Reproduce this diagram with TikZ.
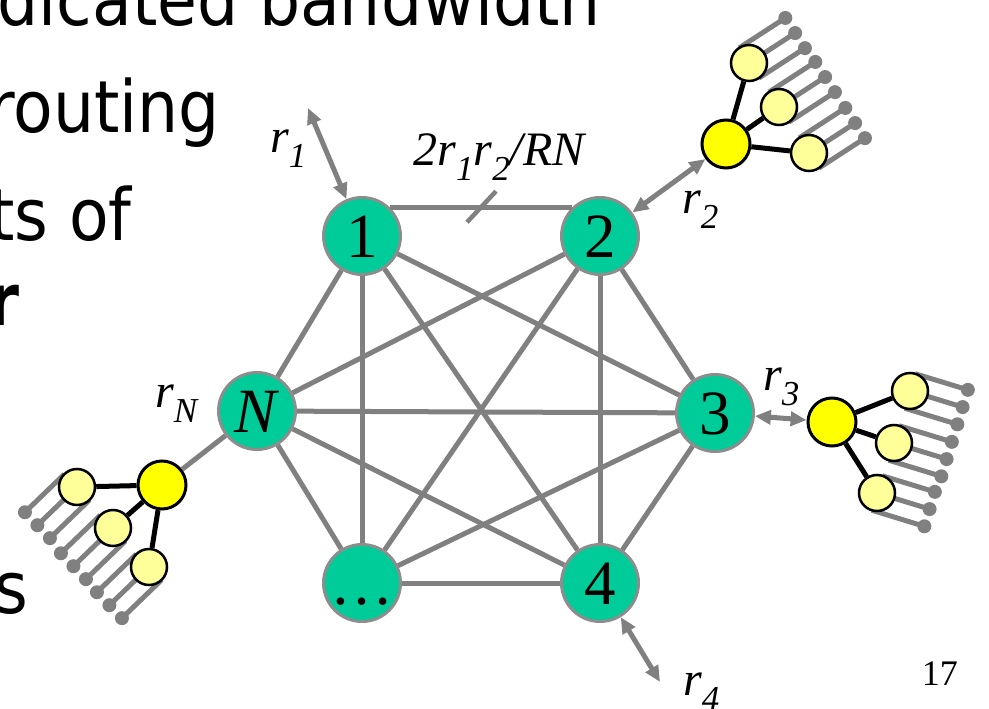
\documentclass[tikz,border=0pt]{standalone}
\usepackage{fontspec}
\setmainfont{Liberation Serif}
\newfontfamily\slidefont[FakeStretch=0.9]{DejaVu Sans}
\usetikzlibrary{arrows.meta,calc,backgrounds}
\definecolor{routerfill}{HTML}{00CC99}
\definecolor{linkgray}{HTML}{808080}
\definecolor{hubfill}{HTML}{FFFF00}
\definecolor{leaffill}{HTML}{FFFF99}
\newcommand\rsub[1]{\raisebox{-.32em}{\fontsize{35}{35}\selectfont #1}}

\begin{document}
\begin{tikzpicture}[x=1pt,y=-1pt,>={Triangle[length=16pt,width=14pt]}]
\tikzset{router/.style={circle,fill=routerfill,draw=linkgray!90,line width=3pt,minimum size=77pt,inner sep=0pt,
  font=\fontsize{63}{63}\selectfont,text height=42pt,text depth=0pt},
link/.style={draw=linkgray,line width=5pt},
hub/.style={circle,fill=hubfill,draw=black,line width=3pt,minimum size=48pt,inner sep=0pt},
leaf/.style={circle,fill=leaffill,draw=black,line width=2.5pt,minimum size=36pt,inner sep=0pt},
tie/.style={draw=black,line width=5pt},
pin/.style={draw=linkgray,line width=5pt},
pinhead/.style={circle,fill=linkgray,minimum size=14pt,inner sep=0pt},
rate/.style={anchor=base west,inner sep=0pt,font=\fontsize{48}{48}\selectfont\itshape},
slide/.style={anchor=base east,inner sep=0pt,font=\slidefont\fontsize{72}{72}\selectfont}}
\useasboundingbox (0,0) rectangle (989,709);
\clip (0,0) rectangle (989,709);
% slide text cut by the frame
\node[slide] (line1) at (601,26) {dicated bandwidth};
\node[slide] (line2) at (220,132) {routing};
\node[slide] (line3) at (132,240) {ts of};
\node[slide] (line4) at (20,325) {\bfseries r};
\node[slide] (line5) at (28,613) {s};
% routers
\node[router] (n1) at (362,236) {1};
\node[router] (n2) at (600,236) {2};
\node[router] (n3) at (715,413) {3};
\node[router] (n4) at (600,583) {4};
\node[router] (n5) at (362,583) {…};
\node[router] (nN) at (257,411) {\textit{N}};
% full mesh
\draw[link] (n1.46) -- coordinate (mid12) (n2.134);
\foreach \a/\b in {n1/n3,n1/n4,n1/n5,n1/nN,n2/n3,n2/n4,n2/n5,n2/nN,n3/n4,n3/n5,n3/nN,n4/n5,n4/nN,n5/nN}
 {\draw[link] (\a) -- (\b);}
\draw[link,line width=4.5pt] ($(mid12)+(-14,15)$) -- ($(mid12)+(15,-16)$);
\node[rate,anchor=base] (bw) at (499,165) {2r\rsub{1}r\rsub{2}/RN};
% access trees
\node[hub] (h2) at (726,144) {};
\node[leaf] (h2a) at (749,63) {};
\node[leaf] (h2b) at (779,107) {};
\node[leaf] (h2c) at (809,153) {};
\node[hub] (h3) at (832,422) {};
\node[leaf] (h3a) at (910,391) {};
\node[leaf] (h3b) at (894,443) {};
\node[leaf] (h3c) at (877,493) {};
\node[hub] (hN) at (162,485) {};
\node[leaf] (hNa) at (77,487) {};
\node[leaf] (hNb) at (113,528) {};
\node[leaf] (hNc) at (149,567) {};
\foreach \h in {h2,h3,hN}{\foreach \s in {a,b,c}{\draw[tie] (\h) -- (\h\s);}}
\begin{scope}[on background layer]
\foreach \h/\ang in {h2/-33,h3/17,hN/136}{
 \foreach \s in {a,b,c}{
  \foreach \k in {-1,0,1}{
   \draw[pin] ($(\h\s)+(\ang+90:\k*18)$) -- ++(\ang:55) node[pinhead]{};
}}}
\end{scope}
% access links
\draw[link] (hN) -- (nN);
\draw[link,<->] (n2) -- (h2);
\draw[link,<->] (n3) -- (h3);
\coordinate (t1) at (308,108);
\draw[link,<->] (t1) -- (n1);
\coordinate (t4) at (660,682);
\draw[link,<->] (n4) -- (t4);
% rates
\node[rate] (lab1) at (270,152) {r\rsub{1}};
\node[rate] (lab2) at (682,213) {r\rsub{2}};
\node[rate] (lab3) at (763,390) {r\rsub{3}};
\node[rate] (labN) at (155,407) {r\rsub{N}};
\node[rate] (lab4) at (683,695) {r\rsub{4}};
\node[anchor=base east,inner sep=0pt,font=\fontsize{36}{36}\selectfont] (page) at (958,685) {17};
\end{tikzpicture}
\end{document}
